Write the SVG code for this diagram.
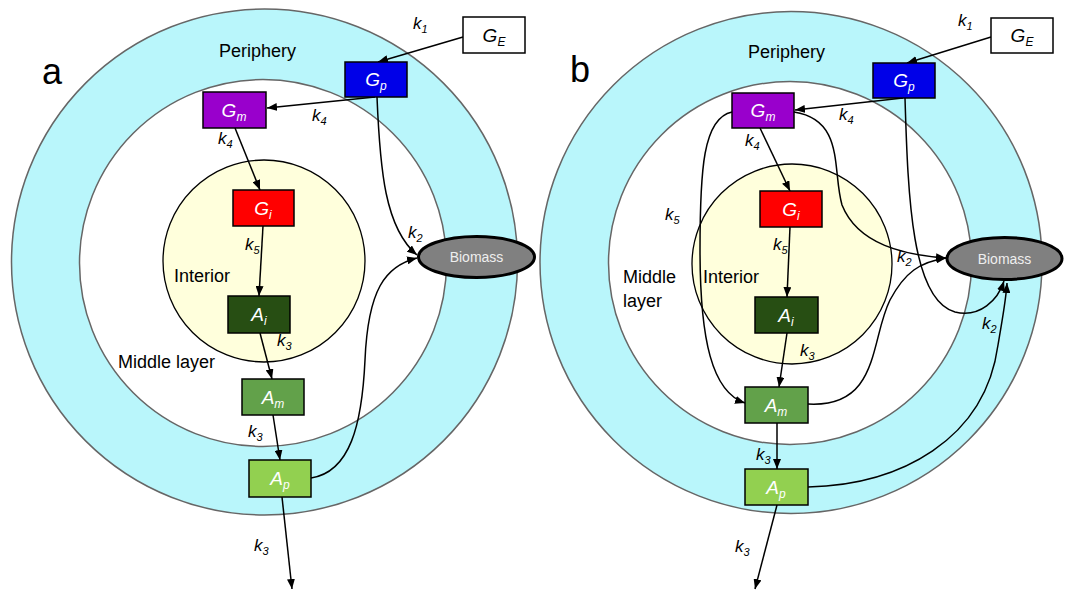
<svg xmlns="http://www.w3.org/2000/svg" width="1068" height="592" viewBox="0 0 1068 592">
<defs>
<marker id="ah" markerWidth="10" markerHeight="8" refX="10" refY="4" orient="auto" markerUnits="userSpaceOnUse">
<path d="M0,0 L10,4 L0,8 Z" fill="#000"/>
</marker>
<style>
.ring{fill:#B9F6FB;stroke:#666;stroke-width:1.5}
.mid{fill:#fff;stroke:#666;stroke-width:1.5}
.int{fill:#FFFFDC;stroke:#000;stroke-width:1.3}
.box{stroke:#000;stroke-width:1.5}
.bt{font-family:"Liberation Sans",Arial,sans-serif;font-style:italic;font-size:19px;fill:#fff;text-anchor:middle}
.bs{font-size:12px}
.kl{font-family:"Liberation Sans",Arial,sans-serif;font-style:italic;font-size:17px;fill:#000}
.ks{font-size:11px}
.lab{font-family:"Liberation Sans",Arial,sans-serif;font-size:18px;fill:#000}
.big{font-family:"Liberation Sans",Arial,sans-serif;font-size:36px;fill:#000}
.bio{fill:#808080;stroke:#000;stroke-width:3}
.biot{font-family:"Liberation Sans",Arial,sans-serif;font-size:14px;fill:#eee;text-anchor:middle}
.c{fill:none;stroke:#000;stroke-width:1.5;marker-end:url(#ah)}
</style>
</defs>
<rect width="1068" height="592" fill="#fff"/>

<g id="panel-a-layers">
<circle class="ring" cx="264.5" cy="262" r="253"/>
<circle class="mid" cx="263" cy="263" r="183.5"/>
<circle class="int" cx="264" cy="261" r="101"/>
<text class="big" x="42" y="84">a</text>
<text class="lab" x="219" y="57">Periphery</text>
<text class="lab" x="174" y="282">Interior</text>
<text class="lab" x="118" y="368">Middle layer</text>
</g>

<g id="panel-b-layers">
<circle class="ring" cx="791" cy="262.5" r="251"/>
<circle class="mid" cx="790" cy="263" r="181.5"/>
<circle class="int" cx="792" cy="264" r="100"/>
<text class="big" x="570" y="82">b</text>
<text class="lab" x="748" y="58">Periphery</text>
<text class="lab" x="703" y="283">Interior</text>
<text class="lab" x="623" y="283">Middle</text>
<text class="lab" x="623" y="307">layer</text>
</g>

<g id="connectors">
<!-- panel a -->
<path class="c" d="M463,37 L378,62"/>
<path class="c" d="M375,97 L267,108"/>
<path class="c" d="M235,128 L260,190"/>
<path class="c" d="M263,226 L259,296"/>
<path class="c" d="M260,333 L272,379"/>
<path class="c" d="M273,415 L280,460"/>
<path class="c" d="M282,497 L292,589"/>
<path class="c" d="M377,97 C380,170 385,228 417,255"/>
<path class="c" d="M311,478 C350,472 362,425 365,360 C368,290 385,266 417,258"/>
<!-- panel b -->
<path class="c" d="M991,37 L907,63"/>
<path class="c" d="M903,98 L795,110"/>
<path class="c" d="M760,128 L790,191"/>
<path class="c" d="M790,227 L787,297"/>
<path class="c" d="M787,333 L779,387"/>
<path class="c" d="M777,423 L777,469"/>
<path class="c" d="M777,505 L755,589"/>
<path class="c" d="M732,112 C703,118 700,170 700,250 C700,340 712,392 745,403"/>
<path class="c" d="M794,112 C845,120 832,170 842,205 C858,245 905,255 946,258"/>
<path class="c" d="M808,404 C880,408 870,340 890,300 C905,272 920,262 946,258"/>
<path class="c" d="M905,98 C908,200 912,300 955,312 C980,318 998,300 1004,281"/>
<path class="c" d="M808,487 C900,485 985,440 998,345 C1003,315 1006,300 1007,283"/>
</g>

<g id="a-GE"><rect class="box" x="463" y="17" width="62" height="36" fill="#fff"/><text class="bt" x="494" y="42" style="fill:#000">G<tspan class="bs" dy="4">E</tspan></text></g>
<g id="a-Gp"><rect class="box" x="345" y="62" width="62" height="35" fill="#0000E8"/><text class="bt" x="376" y="86">G<tspan class="bs" dy="4">p</tspan></text></g>
<g id="a-Gm"><rect class="box" x="203" y="92" width="63" height="36" fill="#9900CC"/><text class="bt" x="234" y="117">G<tspan class="bs" dy="4">m</tspan></text></g>
<g id="a-Gi"><rect class="box" x="233" y="190" width="61" height="36" fill="#FF0000"/><text class="bt" x="263" y="215">G<tspan class="bs" dy="4">i</tspan></text></g>
<g id="a-Ai"><rect class="box" x="228" y="296" width="62" height="37" fill="#274E13"/><text class="bt" x="259" y="321">A<tspan class="bs" dy="4">i</tspan></text></g>
<g id="a-Am"><rect class="box" x="242" y="379" width="62" height="36" fill="#62A14A"/><text class="bt" x="273" y="404">A<tspan class="bs" dy="4">m</tspan></text></g>
<g id="a-Ap"><rect class="box" x="249" y="460" width="62" height="37" fill="#92D050"/><text class="bt" x="280" y="485">A<tspan class="bs" dy="4">p</tspan></text></g>
<g id="a-Biomass"><ellipse class="bio" cx="476.5" cy="257" rx="58" ry="20.5"/><text class="biot" x="476.5" y="262">Biomass</text></g>

<g id="b-GE"><rect class="box" x="991" y="18" width="62" height="35" fill="#fff"/><text class="bt" x="1022" y="42" style="fill:#000">G<tspan class="bs" dy="4">E</tspan></text></g>
<g id="b-Gp"><rect class="box" x="873" y="63" width="62" height="35" fill="#0000E8"/><text class="bt" x="904" y="87">G<tspan class="bs" dy="4">p</tspan></text></g>
<g id="b-Gm"><rect class="box" x="732" y="93" width="62" height="35" fill="#9900CC"/><text class="bt" x="763" y="117">G<tspan class="bs" dy="4">m</tspan></text></g>
<g id="b-Gi"><rect class="box" x="760" y="191" width="62" height="36" fill="#FF0000"/><text class="bt" x="791" y="216">G<tspan class="bs" dy="4">i</tspan></text></g>
<g id="b-Ai"><rect class="box" x="755" y="297" width="63" height="36" fill="#274E13"/><text class="bt" x="786" y="322">A<tspan class="bs" dy="4">i</tspan></text></g>
<g id="b-Am"><rect class="box" x="745" y="387" width="63" height="36" fill="#62A14A"/><text class="bt" x="776" y="412">A<tspan class="bs" dy="4">m</tspan></text></g>
<g id="b-Ap"><rect class="box" x="745" y="469" width="63" height="36" fill="#92D050"/><text class="bt" x="776" y="494">A<tspan class="bs" dy="4">p</tspan></text></g>
<g id="b-Biomass"><ellipse class="bio" cx="1004.5" cy="258.5" rx="57.5" ry="21"/><text class="biot" x="1004.5" y="263.5">Biomass</text></g>

<g id="rate-labels">
<text class="kl" x="413" y="29">k<tspan class="ks" dy="4">1</tspan></text>
<text class="kl" x="312" y="121">k<tspan class="ks" dy="4">4</tspan></text>
<text class="kl" x="218" y="144">k<tspan class="ks" dy="4">4</tspan></text>
<text class="kl" x="245" y="250">k<tspan class="ks" dy="4">5</tspan></text>
<text class="kl" x="408" y="238">k<tspan class="ks" dy="4">2</tspan></text>
<text class="kl" x="277" y="346">k<tspan class="ks" dy="4">3</tspan></text>
<text class="kl" x="248" y="437">k<tspan class="ks" dy="4">3</tspan></text>
<text class="kl" x="254" y="551">k<tspan class="ks" dy="4">3</tspan></text>

<text class="kl" x="958" y="26">k<tspan class="ks" dy="4">1</tspan></text>
<text class="kl" x="839" y="120">k<tspan class="ks" dy="4">4</tspan></text>
<text class="kl" x="745" y="146">k<tspan class="ks" dy="4">4</tspan></text>
<text class="kl" x="665" y="220">k<tspan class="ks" dy="4">5</tspan></text>
<text class="kl" x="773" y="250">k<tspan class="ks" dy="4">5</tspan></text>
<text class="kl" x="897" y="262">k<tspan class="ks" dy="4">2</tspan></text>
<text class="kl" x="982" y="329">k<tspan class="ks" dy="4">2</tspan></text>
<text class="kl" x="800" y="356">k<tspan class="ks" dy="4">3</tspan></text>
<text class="kl" x="756" y="460">k<tspan class="ks" dy="4">3</tspan></text>
<text class="kl" x="735" y="552">k<tspan class="ks" dy="4">3</tspan></text>
</g>
</svg>
